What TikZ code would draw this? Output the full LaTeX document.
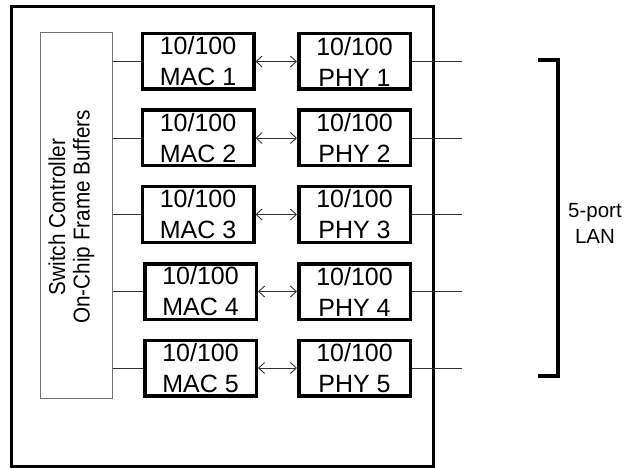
\documentclass[tikz,border=0pt]{standalone}
\usepackage{fontspec}
\setmainfont{Liberation Sans}
\newfontfamily\ctrlfont[FakeStretch=0.9]{Liberation Sans}
\usetikzlibrary{arrows.meta}

\begin{document}
\begin{tikzpicture}
  [
    x = 1pt, y = -1pt,
    blk/.style = {draw, line width=3.5pt, minimum width=111.5pt,
      minimum height=55.5pt, inner sep=0pt, align=center,
      font=\fontsize{25}{31}\selectfont},
    ctrl/.style = {draw=black!55, line width=1pt, minimum width=72pt,
      minimum height=365pt, inner sep=0pt},
    link/.style = {draw=black!80, line width=0.9pt},
    >={Straight Barb[length=6pt, width=11pt]}
  ]
  \useasboundingbox (0,0) rectangle (627,468);
  % chip outline
  \draw[line width=3pt] (11,7) rectangle (433.5,466);
  \node[ctrl] (Ctrl) at (76,215.5) {};
  \node[rotate=90, align=center, inner sep=0pt,
    font=\ctrlfont\fontsize{23}{24.5}\selectfont] (CtrlTxt)
    at (71.5,217) {Switch Controller\\On-Chip Frame Buffers};
  % MACs
  \node[blk] (M1) at (198,61.5)   {10/100\\MAC 1};
  \node[blk] (M2) at (198,138)    {10/100\\MAC 2};
  \node[blk] (M3) at (198,214.5)  {10/100\\MAC 3};
  \node[blk] (M4) at (200.5,291.5) {10/100\\MAC 4};
  \node[blk] (M5) at (200.5,368)  {10/100\\MAC 5};
  % PHYs
  \node[blk] (P1) at (354.5,61.5)  {10/100\\PHY 1};
  \node[blk] (P2) at (354.5,138)   {10/100\\PHY 2};
  \node[blk] (P3) at (354.5,214.5) {10/100\\PHY 3};
  \node[blk] (P4) at (354.5,291.5) {10/100\\PHY 4};
  \node[blk] (P5) at (354.5,368)   {10/100\\PHY 5};
  % port ends
  \coordinate (L1) at (462,61.5);
  \coordinate (L2) at (462,138);
  \coordinate (L3) at (462,214.5);
  \coordinate (L4) at (462,291.5);
  \coordinate (L5) at (462,368);
  % links
  \draw[link] (Ctrl.east |- M1) -- (M1.west);
  \draw[link] (Ctrl.east |- M2) -- (M2.west);
  \draw[link] (Ctrl.east |- M3) -- (M3.west);
  \draw[link] (Ctrl.east |- M4) -- (M4.west);
  \draw[link] (Ctrl.east |- M5) -- (M5.west);
  \draw[link, <->] (M1.east) -- (P1.west);
  \draw[link, <->] (M2.east) -- (P2.west);
  \draw[link, <->] (M3.east) -- (P3.west);
  \draw[link, <->] (M4.east) -- (P4.west);
  \draw[link, <->] (M5.east) -- (P5.west);
  \draw[link] (P1.east) -- (L1);
  \draw[link] (P2.east) -- (L2);
  \draw[link] (P3.east) -- (L3);
  \draw[link] (P4.east) -- (L4);
  \draw[link] (P5.east) -- (L5);
  % LAN bracket
  \draw[line width=3.5pt] (538,60) -- (558,60) -- (558,376) -- (538,376);
  \node[align=center, font=\fontsize{20.5}{26}\selectfont] (LAN) at (595,223) {5-port\\LAN};
\end{tikzpicture}
\end{document}
